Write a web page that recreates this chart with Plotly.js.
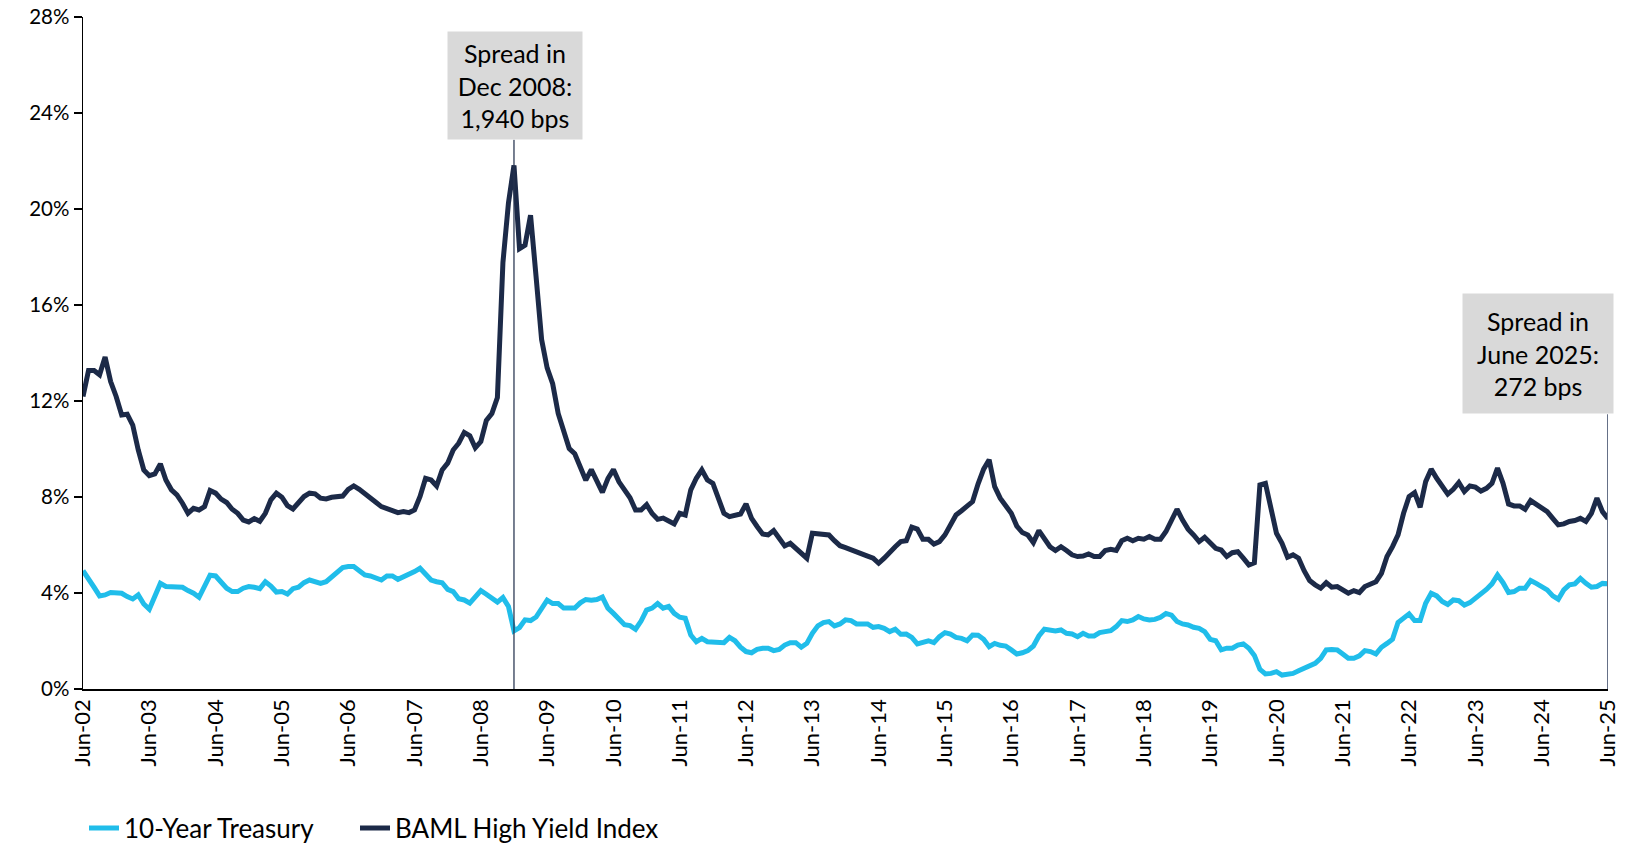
<!DOCTYPE html>
<html>
<head>
<meta charset="utf-8">
<script src="https://cdn.plot.ly/plotly-3.0.1.min.js"></script>
<style>
  html, body { margin: 0; padding: 0; background: #ffffff; }
  #chart { width: 1637px; height: 843px; }
</style>
</head>
<body>
<div id="chart"></div>
<script>
// Monthly yields, Jun-2002 through Jun-2025 (percent)
const treasury10y = [
  4.93,4.61,4.24,3.88,3.92,4.02,4.02,3.99,3.85,3.75,3.92,3.54,3.32,3.92,4.40,4.27,4.27,4.29,4.24,4.10,
  3.99,3.82,4.34,4.74,4.71,4.43,4.20,4.06,4.06,4.20,4.27,4.24,4.18,4.47,4.29,4.04,
  4.06,3.96,4.18,4.24,4.43,4.54,4.47,4.40,4.47,4.65,4.89,5.06,5.10,5.10,4.93,4.75,4.71,4.61,4.54,4.71,
  4.71,4.57,4.68,4.75,4.89,5.03,4.82,4.54,4.47,4.43,4.15,4.06,3.76,3.71,3.58,3.82,
  4.10,3.95,3.81,3.62,3.81,3.44,2.42,2.56,2.88,2.85,3.00,3.37,3.70,3.56,3.56,3.37,3.37,3.37,3.59,3.73,
  3.70,3.73,3.83,3.37,3.15,2.93,2.68,2.64,2.49,2.83,3.29,3.37,3.56,3.37,3.44,
  3.15,2.99,2.95,2.25,1.97,2.11,1.97,1.95,1.93,1.93,2.15,2.01,1.74,1.56,1.51,1.65,1.70,1.70,1.60,1.65,
  1.83,1.93,1.93,1.74,1.90,2.32,2.63,2.77,2.81,2.63,2.71,2.88,2.85,2.71,2.71,
  2.71,2.57,2.60,2.53,2.39,2.49,2.28,2.29,2.15,1.88,1.97,2.01,1.93,2.18,2.35,2.29,2.15,2.11,2.01,2.25,
  2.24,2.07,1.76,1.90,1.82,1.79,1.63,1.46,1.51,1.60,1.79,2.21,2.49,2.46,2.42,
  2.46,2.32,2.29,2.18,2.32,2.21,2.21,2.35,2.39,2.43,2.60,2.85,2.81,2.88,3.02,2.92,2.88,2.90,2.99,3.15,
  3.08,2.81,2.71,2.67,2.57,2.53,2.39,2.07,2.01,1.63,1.70,1.70,1.83,1.88,1.70,1.40,
  0.82,0.63,0.65,0.72,0.58,0.63,0.65,0.76,0.86,0.93,1.07,1.28,1.63,1.65,1.63,1.46,1.28,1.28,1.38,1.60,
  1.56,1.46,1.74,1.90,2.07,2.77,2.95,3.13,2.85,2.85,3.57,3.99,3.88,3.65,3.52,
  3.71,3.68,3.50,3.60,3.78,3.92,4.15,4.38,4.75,4.43,4.02,4.06,4.20,4.20,4.52,4.40,4.29,4.13,3.88,3.74,
  4.13,4.34,4.38,4.61,4.40,4.24,4.27,4.40,4.38
];

const highYield = [
  12.19,13.27,13.27,13.09,13.83,12.81,12.19,11.42,11.45,11.00,9.96,9.13,8.89,8.96,9.38,8.71,8.30,8.09,7.74,7.32,
  7.53,7.46,7.60,8.27,8.16,7.91,7.77,7.49,7.32,7.04,6.96,7.10,6.99,7.32,7.88,8.16,
  7.99,7.64,7.50,7.74,8.02,8.16,8.13,7.95,7.92,7.99,8.02,8.04,8.32,8.46,8.32,8.16,7.99,7.78,7.60,7.53,
  7.43,7.35,7.39,7.35,7.46,8.02,8.78,8.71,8.46,9.13,9.41,9.96,10.24,10.69,10.55,10.05,
  10.31,11.19,11.48,12.14,17.77,20.25,21.82,18.35,18.49,19.74,17.18,14.56,13.38,12.72,11.48,10.68,10.02,9.80,9.21,8.70,
  9.14,8.63,8.19,8.77,9.14,8.63,8.26,7.97,7.46,7.46,7.68,7.31,7.07,7.12,7.00,
  6.88,7.32,7.25,8.30,8.78,9.13,8.71,8.57,7.95,7.32,7.18,7.25,7.29,7.71,7.11,6.77,6.46,6.42,6.60,6.28,
  5.96,6.07,5.86,5.68,5.45,6.49,6.45,6.46,6.42,6.18,5.97,5.89,5.79,5.70,5.60,
  5.54,5.45,5.24,5.45,5.72,5.93,6.14,6.18,6.74,6.66,6.24,6.24,6.04,6.14,6.42,6.84,7.25,7.43,7.63,7.81,
  8.55,9.16,9.55,8.43,7.95,7.63,7.32,6.79,6.52,6.42,6.10,6.60,6.28,5.93,5.77,
  5.93,5.77,5.59,5.52,5.54,5.63,5.52,5.52,5.77,5.82,5.77,6.18,6.28,6.18,6.28,6.24,6.35,6.24,6.24,6.56,
  7.04,7.49,7.04,6.66,6.42,6.14,6.32,6.07,5.86,5.79,5.52,5.68,5.72,5.45,5.17,5.26,
  8.50,8.57,7.60,6.49,6.07,5.49,5.59,5.45,4.93,4.52,4.34,4.20,4.43,4.24,4.27,4.10,3.99,4.10,4.02,4.27,
  4.40,4.47,4.82,5.52,5.93,6.42,7.32,8.02,8.18,7.57,8.64,9.16,8.78,8.45,8.12,
  8.32,8.60,8.23,8.46,8.41,8.25,8.36,8.57,9.20,8.57,7.71,7.63,7.63,7.49,7.85,7.71,7.57,7.39,7.11,6.84,
  6.88,6.98,7.02,7.11,6.98,7.32,7.95,7.39,7.10
];

// One tick per June
const tickLabels = [
  "Jun-02","Jun-03","Jun-04","Jun-05","Jun-06","Jun-07","Jun-08","Jun-09","Jun-10","Jun-11","Jun-12","Jun-13",
  "Jun-14","Jun-15","Jun-16","Jun-17","Jun-18","Jun-19","Jun-20","Jun-21","Jun-22","Jun-23","Jun-24","Jun-25"
];
const yTicks = [0, 4, 8, 12, 16, 20, 24, 28];

const monthIndex = highYield.map((_, i) => i);
const tickPositions = tickLabels.map((_, i) => i * 12);
const lastIdx = highYield.length - 1;
const peakIdx = highYield.indexOf(Math.max(...highYield));
const spreadBps = i => Math.round((highYield[i] - treasury10y[i]) * 100).toLocaleString('en-US');

const FONT = 'Lato, Carlito, Calibri, "Noto Sans", sans-serif';

const traces = [
  {
    x: monthIndex, y: treasury10y, type: 'scatter', mode: 'lines',
    name: '10-Year Treasury', legend: 'legend',
    line: { color: '#20BDEA', width: 5 }
  },
  {
    x: monthIndex, y: highYield, type: 'scatter', mode: 'lines',
    name: 'BAML High Yield Index', legend: 'legend2',
    line: { color: '#1C2A48', width: 5 }
  }
];

const box1Bottom = 0.8175;
const box2Bottom = 0.409;

const legendBase = {
  orientation: 'h',
  xref: 'container', yref: 'container',
  xanchor: 'left', y: 15 / 843, yanchor: 'middle',
  font: { family: FONT, size: 26, color: '#000000' },
  bgcolor: 'rgba(0,0,0,0)', borderwidth: 0
};

const layout = {
  width: 1637, height: 843,
  margin: { l: 83, r: 29, t: 17, b: 154, pad: 0 },
  paper_bgcolor: '#ffffff', plot_bgcolor: '#ffffff',
  font: { family: FONT, color: '#000000', size: 22 },
  showlegend: true,
  legend: Object.assign({}, legendBase, { x: 84 / 1637 }),
  legend2: Object.assign({}, legendBase, { x: 355 / 1637 }),
  xaxis: {
    range: [0, lastIdx],
    tickvals: tickPositions, ticktext: tickLabels,
    tickangle: -90,
    ticks: '', showgrid: false, zeroline: false,
    showline: true, linecolor: '#000000', linewidth: 1.5,
    tickfont: { family: FONT, size: 22, color: '#000000' },
    automargin: false, fixedrange: true
  },
  yaxis: {
    range: [0, 28],
    tickvals: yTicks, ticktext: yTicks.map(v => v + '%'),
    ticks: 'outside', ticklen: 8, tickwidth: 1.5, tickcolor: '#000000',
    showgrid: false, zeroline: false,
    showline: true, linecolor: '#000000', linewidth: 1.5,
    tickfont: { family: FONT, size: 20.5, color: '#000000' },
    automargin: false, fixedrange: true
  },
  shapes: [
    {
      type: 'line', xref: 'x', yref: 'paper',
      x0: peakIdx, x1: peakIdx, y0: 0, y1: box1Bottom,
      line: { color: '#26334f', width: 1.25 }, layer: 'above'
    },
    {
      type: 'line', xref: 'x', yref: 'paper',
      x0: lastIdx, x1: lastIdx, y0: 0, y1: box2Bottom,
      line: { color: '#657087', width: 2 }, layer: 'above'
    }
  ],
  annotations: [
    {
      xref: 'x', yref: 'paper', x: peakIdx, y: box1Bottom,
      xanchor: 'center', yanchor: 'bottom', xshift: 1,
      text: 'Spread in<br>Dec 2008:<br>' + spreadBps(peakIdx) + ' bps',
      showarrow: false, bgcolor: '#D9D9D9', borderpad: 0,
      width: 134, height: 107, align: 'center', valign: 'middle',
      font: { family: FONT, size: 25, color: '#000000' }
    },
    {
      xref: 'x', yref: 'paper', x: lastIdx, y: box2Bottom,
      xanchor: 'right', yanchor: 'bottom', xshift: 6,
      text: 'Spread in<br>June 2025:<br>' + spreadBps(lastIdx) + ' bps',
      showarrow: false, bgcolor: '#D9D9D9', borderpad: 0,
      width: 150, height: 119, align: 'center', valign: 'middle',
      font: { family: FONT, size: 25, color: '#000000' }
    }
  ]
};

Plotly.newPlot('chart', traces, layout, { displayModeBar: false, staticPlot: true });
</script>
</body>
</html>
